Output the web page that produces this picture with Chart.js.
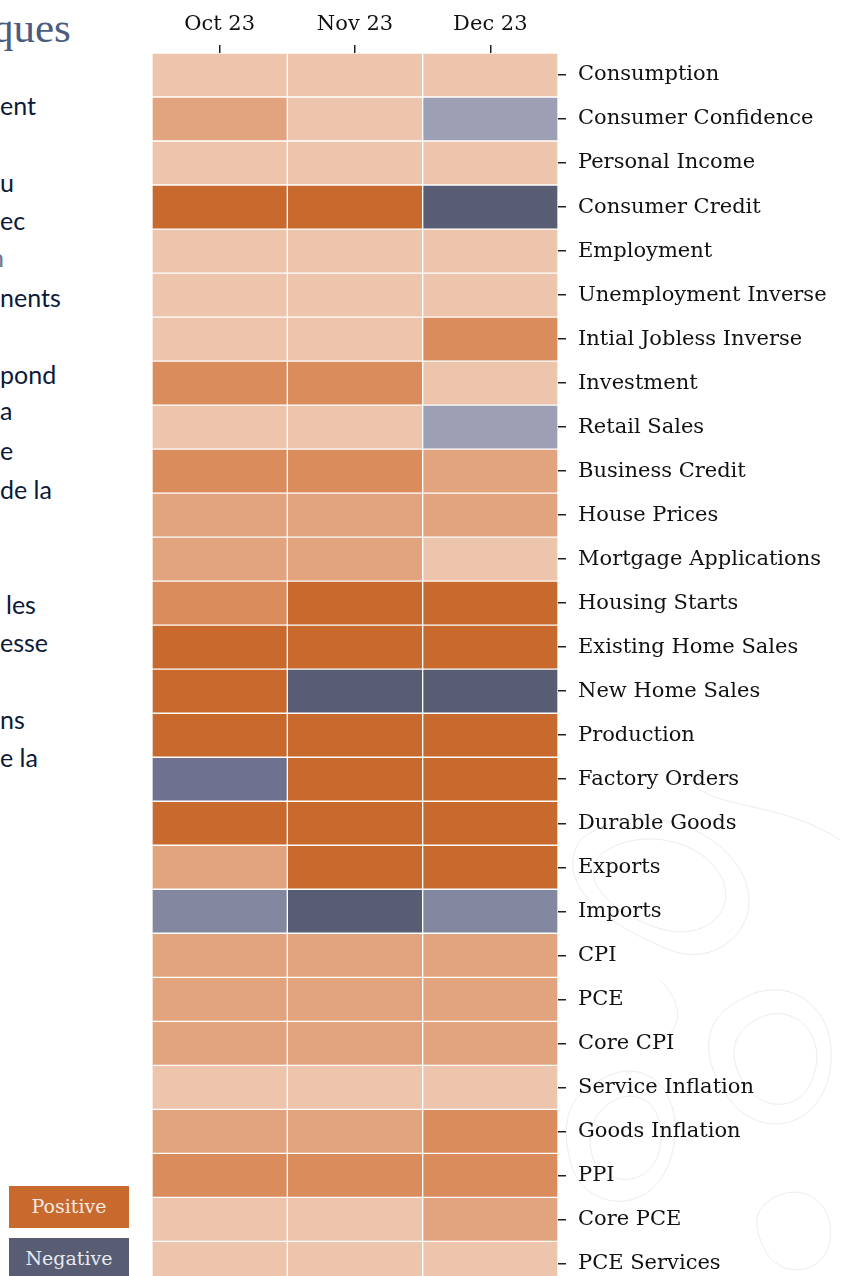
<!DOCTYPE html>
<html>
<head>
<meta charset="utf-8">
<script src="https://cdn.jsdelivr.net/npm/chart.js@4"></script>
<style>
  html, body { margin: 0; padding: 0; background: #fff; overflow: hidden; }
  body { width: 842px; height: 1276px; position: relative; }
  #wrap { position: absolute; left: 0; top: 0; width: 842px; height: 1310px; }
  .frag { position: absolute; left: 0; font-family: Lato, "Open Sans", sans-serif; font-size: 25px; color: #0c1a38; white-space: nowrap; line-height: 1; }
  .title { position: absolute; left: -8px; top: 6px; font-family: "Liberation Serif", serif; font-size: 43px; color: #4b5c80; line-height: 1; }
  .key { position: absolute; left: 9px; width: 120px; height: 42px; line-height: 40px; text-align: center;
         font-family: "DejaVu Serif", serif; font-size: 19px; }
  #topo { position: absolute; left: 540px; top: 780px; }
</style>
</head>
<body>
<svg id="topo" width="302" height="496" viewBox="0 0 302 496">
  <g fill="none" stroke="#eaecf0" stroke-width="1">
    <path d="M40 60 C90 20 170 40 200 90 C230 140 180 190 130 170 C80 150 10 110 40 60 Z"/>
    <path d="M60 75 C100 45 160 60 180 95 C200 130 165 160 125 150 C85 140 35 105 60 75 Z"/>
    <path d="M200 220 C250 190 300 230 290 290 C280 350 220 360 190 320 C160 280 160 240 200 220 Z"/>
    <path d="M215 240 C250 220 285 250 275 290 C268 330 225 335 205 305 C188 278 190 255 215 240 Z"/>
    <path d="M60 300 C110 270 150 320 130 380 C110 440 40 430 30 380 C20 340 30 315 60 300 Z"/>
    <path d="M75 320 C105 305 130 335 118 375 C106 410 60 405 52 375 C46 350 55 330 75 320 Z"/>
    <path d="M230 420 C260 400 295 420 290 460 C285 495 240 500 225 470 C212 445 215 430 230 420 Z"/>
    <path d="M120 200 C150 230 140 260 100 270"/>
    <path d="M150 0 C170 30 240 20 300 60"/>
  </g>
</svg>

<div class="title">ques</div>
<div class="frag" style="top:93px">ent</div>
<div class="frag" style="top:170px">u</div>
<div class="frag" style="top:208px">ec</div>
<div class="frag" style="top:245px;left:-10px;color:#6a7890">n</div>
<div class="frag" style="top:285px">nents</div>
<div class="frag" style="top:362px">pond</div>
<div class="frag" style="top:398px">a</div>
<div class="frag" style="top:438px">e</div>
<div class="frag" style="top:477px">de la</div>
<div class="frag" style="top:592px;left:6px">les</div>
<div class="frag" style="top:630px">esse</div>
<div class="frag" style="top:707px">ns</div>
<div class="frag" style="top:745px">e la</div>

<div class="key" style="top:1186px;background:#c8692e;color:#f6e9e0">Positive</div>
<div class="key" style="top:1238px;background:#585d73;color:#e9eaf0">Negative</div>

<div id="wrap"><canvas id="heat" width="842" height="1310"></canvas></div>

<script>
const months = ['Oct 23', 'Nov 23', 'Dec 23'];

const indicators = [
  'Consumption', 'Consumer Confidence', 'Personal Income', 'Consumer Credit',
  'Employment', 'Unemployment Inverse', 'Intial Jobless Inverse', 'Investment',
  'Retail Sales', 'Business Credit', 'House Prices', 'Mortgage Applications',
  'Housing Starts', 'Existing Home Sales', 'New Home Sales', 'Production',
  'Factory Orders', 'Durable Goods', 'Exports', 'Imports',
  'CPI', 'PCE', 'Core CPI', 'Service Inflation',
  'Goods Inflation', 'PPI', 'Core PCE', 'PCE Services'
];

// signal strength per month: +1..+4 positive, -1..-4 negative
const octScores = [1, 2, 1, 4, 1, 1, 1, 3, 1, 3, 2, 2, 3, 4, 4, 4, -3, 4, 2, -2, 2, 2, 2, 1, 2, 3, 1, 1];
const novScores = [1, 1, 1, 4, 1, 1, 1, 3, 1, 3, 2, 2, 4, 4, -4, 4, 4, 4, 4, -4, 2, 2, 2, 1, 2, 3, 1, 1];
const decScores = [1, -1, 1, -4, 1, 1, 3, 1, -1, 2, 2, 1, 4, 4, -4, 4, 4, 4, 4, -2, 2, 2, 2, 1, 3, 3, 2, 1];

const positiveColors = ['#edc4ac', '#e2a47f', '#da8c5c', '#c8692e'];
const negativeColors = ['#9d9fb4', '#8387a0', '#6e7290', '#585d73'];

const scores = [octScores, novScores, decScores];

function cellColor(v) {
  if (v > 0) return positiveColors[v - 1];
  return negativeColors[-v - 1];
}

const ctx = document.getElementById('heat').getContext('2d');

new Chart(ctx, {
  type: 'bar',
  data: {
    labels: indicators,
    datasets: months.map((m, i) => ({
      label: m,
      data: indicators.map(() => 1),
      backgroundColor: c => cellColor(scores[i][c.dataIndex]),
      borderColor: '#ffffff',
      borderWidth: 1,
      borderSkipped: false,
      barPercentage: 1,
      categoryPercentage: 1
    }))
  },
  options: {
    indexAxis: 'y',
    responsive: false,
    maintainAspectRatio: false,
    animation: false,
    // canvas is taller than the page: the last row runs off the bottom, as in the slide
    layout: { padding: { left: 152, right: 0, top: 0, bottom: 15 } },
    plugins: { legend: { display: false }, tooltip: { enabled: false } },
    scales: {
      x: {
        type: 'linear',
        position: 'top',
        stacked: true,
        min: 0,
        max: 3,
        afterBuildTicks: s => { s.ticks = months.map((m, i) => ({ value: i + 0.5 })); },
        afterFit: s => { s.height = 53; },
        ticks: {
          callback: (v, i) => months[i],
          font: { family: 'DejaVu Serif', size: 21 },
          color: '#111',
          padding: 8,
          maxRotation: 0
        },
        grid: { drawOnChartArea: false, drawTicks: true, tickLength: 8, color: '#222', lineWidth: 1.5 },
        border: { display: false }
      },
      y: {
        position: 'right',
        stacked: true,
        afterFit: s => { s.width = 284; },
        ticks: {
          font: { family: 'DejaVu Serif', size: 21 },
          color: '#111',
          padding: 12
        },
        grid: { offset: false, drawOnChartArea: false, drawTicks: true, tickLength: 8, color: '#222', lineWidth: 1.5 },
        border: { display: false }
      }
    }
  }
});
</script>
</body>
</html>
